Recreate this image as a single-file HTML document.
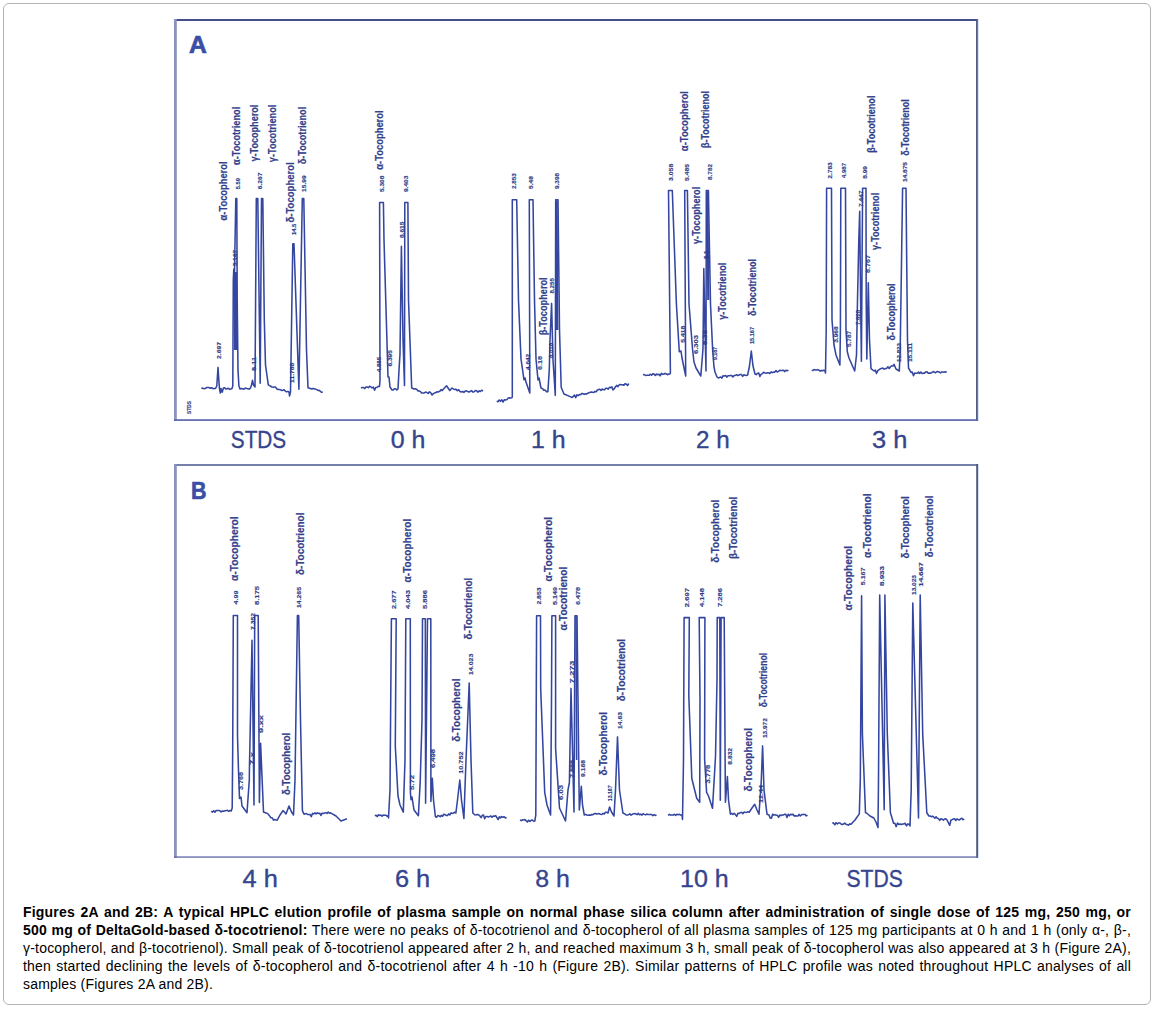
<!DOCTYPE html>
<html><head><meta charset="utf-8">
<style>
html,body{margin:0;padding:0;background:#fff;}
body{width:1155px;height:1011px;position:relative;overflow:hidden;font-family:"Liberation Sans",sans-serif;}
#box{position:absolute;left:3px;top:3px;width:1146px;height:1000px;border:1px solid #b4b4b4;border-radius:6px;box-sizing:content-box;}
#cap{position:absolute;left:23px;top:902.5px;width:1108px;font-size:14px;line-height:18px;color:#000;}
#cap div{height:18px;white-space:nowrap;}
#cap .j{text-align:justify;text-align-last:justify;white-space:normal;}
#cap div{letter-spacing:0.2px;}
#fig{position:absolute;left:0;top:0;}
</style></head><body>
<div id="box"></div>
<svg id="fig" width="1155" height="900" viewBox="0 0 1155 900">
<rect x="174" y="19" width="804" height="2" fill="#434f88"/>
<rect x="174" y="19" width="2.8" height="402" fill="#8b93c2"/>
<rect x="976" y="19" width="1.9" height="402" fill="#525f7e"/>
<rect x="977.9" y="19" width="1" height="402" fill="#d6ddf8"/>
<rect x="174" y="419.2" width="804" height="1.7" fill="#5c67ae"/>
<rect x="174" y="464" width="804" height="2" fill="#7681ab"/>
<rect x="174" y="464" width="2.8" height="394" fill="#8b93c2"/>
<rect x="976.2" y="464" width="1.8" height="394" fill="#4e5b76"/>
<rect x="978" y="464" width="1" height="394" fill="#d6ddf8"/>
<rect x="174" y="856.4" width="804" height="1.3" fill="#5c67a8"/>
<text x="189" y="52.6" font-size="24.5" font-weight="bold" fill="#3a4ea6" stroke="#3a4ea6" stroke-width="0.7" textLength="17.8" lengthAdjust="spacingAndGlyphs">A</text>
<text x="191" y="498.6" font-size="23" font-weight="bold" fill="#3a4ea6" stroke="#3a4ea6" stroke-width="0.6" textLength="15.5" lengthAdjust="spacingAndGlyphs">B</text>
<g fill="none" stroke="#3446a0" stroke-width="1.55" stroke-linejoin="round">
<path d="M201.3,388.4 202.6,388.1 203.9,388.7 205.2,388.5 206.5,387.6 207.8,387.5 209.0,387.6 210.3,388.3 211.6,387.7 212.9,388.7 214.2,388.6 215.5,388.5 216.8,386.0 218.0,367.4 219.4,388.0 220.3,393.0 221.0,388.5 222.2,392.2 223.4,388.1 224.7,387.7 225.9,389.1 227.1,388.7 228.3,388.2 229.6,389.4 230.8,388.9 232.0,388.5 232.8,386.0 233.3,280.0 233.8,269.0 234.5,272.0 235.8,198.5 236.8,198.5 237.2,300.0 238.0,370.0 238.9,386.0 240.0,389.0 241.3,388.5 242.6,388.7 243.9,389.2 245.2,388.0 246.6,388.4 247.9,388.7 249.2,389.1 250.5,388.0 251.5,385.0 252.5,380.3 253.5,385.0 255.0,387.0 256.3,198.5 257.8,198.5 260.2,383.3 261.5,198.5 262.8,198.5 264.3,320.0 265.5,365.0 268.3,384.8 272.0,387.0 273.2,387.2 274.4,387.0 275.6,387.1 276.9,389.0 278.1,389.5 279.3,389.5 280.5,389.7 281.7,390.5 282.9,390.2 284.1,389.7 285.4,391.2 286.6,391.9 287.8,391.4 289.0,392.0 289.5,396.0 290.5,392.0 292.8,243.8 294.0,243.8 298.9,389.2 302.3,198.5 303.8,198.5 306.5,350.0 308.0,387.7 312.0,389.0 313.2,388.4 314.4,389.0 315.6,389.1 316.8,389.6 318.0,390.4 319.2,390.2 320.4,391.4 321.6,392.3 322.8,392.0"/>
<path d="M361.0,388.0 362.2,387.5 363.5,387.5 364.7,388.6 365.9,387.0 367.2,387.0 368.4,387.6 369.6,386.3 370.9,386.9 372.1,388.0 373.3,387.0 374.6,390.1 375.8,387.4 377.0,387.3 378.3,386.4 379.5,386.5 380.0,380.0 379.6,202.4 383.4,202.4 384.0,240.0 388.0,377.0 389.0,377.0 390.0,387.0 392.0,390.0 393.2,390.1 394.4,388.7 395.6,388.7 396.8,390.0 398.0,389.0 399.0,370.0 400.0,354.0 401.4,246.3 403.0,340.0 404.5,385.6 404.8,202.4 407.9,202.4 408.5,300.0 411.7,388.0 414.0,389.0 415.3,388.8 416.6,389.2 417.9,390.9 419.1,390.8 420.4,391.6 421.7,393.1 423.0,393.0 424.3,392.9 425.6,392.1 426.9,392.5 428.2,393.5 429.5,391.8 430.8,392.8 432.1,395.0 433.4,393.6 434.7,392.9 436.0,392.5 437.2,391.7 438.5,391.9 439.8,391.3 441.0,389.6 442.2,390.6 443.5,389.0 446.5,385.8 449.8,390.5 452.0,388.0 453.3,389.0 454.6,389.4 456.0,389.3 457.3,390.7 458.6,389.7 460.0,391.5 461.3,391.9 462.6,391.5 463.9,392.4 465.2,390.9 466.4,390.8 467.7,391.6 469.0,392.0 470.2,391.6 471.5,390.5 472.8,392.1 474.1,391.7 475.4,390.5 476.6,390.8 477.9,392.1 479.2,390.9 480.4,391.5 481.7,390.3 483.0,391.0"/>
<path d="M496.7,401.3 498.0,401.8 499.2,400.0 500.5,401.3 501.8,399.8 503.1,402.0 504.4,399.7 505.6,400.0 506.9,399.6 508.2,397.9 509.4,397.8 510.7,398.1 512.0,397.6 512.3,397.0 512.3,199.8 516.7,199.8 518.5,300.0 521.0,359.0 524.0,379.8 525.0,378.0 526.0,382.0 529.8,393.0 529.3,199.8 533.0,199.8 534.5,300.0 536.0,359.0 538.0,380.0 539.0,378.0 541.0,388.0 542.4,388.6 543.8,390.3 545.1,390.1 546.5,391.8 547.9,391.7 549.3,369.4 550.0,340.0 551.6,303.4 553.0,360.0 555.3,395.4 555.7,199.8 558.0,199.8 559.5,330.0 561.2,387.2 564.0,394.0 570.9,396.9 572.1,397.5 573.3,396.4 574.5,395.1 575.7,397.8 576.9,394.8 578.1,395.7 579.3,394.6 580.5,394.8 581.7,393.6 582.9,393.6 584.1,394.4 585.4,393.7 586.6,394.1 587.8,393.2 589.0,392.7 590.2,392.3 591.4,392.1 592.6,392.3 593.8,392.5 595.0,391.4 596.2,391.7 597.4,390.0 598.6,389.6 599.8,389.3 601.0,390.5 602.2,389.0 603.4,389.7 604.6,389.8 605.8,388.2 607.0,388.3 608.2,389.2 609.4,387.3 610.6,387.7 611.8,386.8 613.0,389.9 614.2,388.7 615.5,386.8 616.7,385.4 617.9,386.6 619.1,384.9 620.3,384.5 621.5,384.7 622.7,384.7 623.9,385.3 625.1,383.6 626.3,384.2 627.5,385.5 628.7,383.5"/>
<path d="M643.0,374.7 644.2,374.5 645.5,375.5 646.7,375.2 647.9,375.3 649.1,375.3 650.4,374.2 651.6,375.3 652.8,373.7 654.0,373.9 655.3,375.5 656.5,374.0 657.7,374.8 659.0,374.3 660.2,375.8 661.4,373.3 662.6,374.3 663.9,374.1 665.1,373.3 666.3,374.0 667.5,374.7 668.8,374.0 670.0,374.0 670.4,373.0 668.5,190.5 672.3,190.5 676.4,304.0 679.3,351.7 681.0,351.0 682.0,358.0 685.7,376.0 684.7,190.5 687.4,190.5 689.0,304.0 692.7,351.0 694.0,362.0 696.0,368.0 700.8,376.0 702.5,355.0 703.0,348.7 703.8,268.6 705.0,330.0 706.0,371.0 706.3,190.5 708.4,190.5 710.5,304.0 712.7,351.0 714.0,367.0 715.0,372.0 717.0,377.0 718.2,377.9 719.4,377.5 720.7,377.0 721.9,378.1 723.1,375.7 724.3,376.0 725.6,375.6 726.8,377.1 728.0,375.8 729.2,375.8 730.5,375.4 731.7,375.6 732.9,376.9 734.1,375.4 735.4,375.4 736.6,374.7 737.8,375.6 739.0,375.0 740.3,374.5 741.5,374.6 742.7,376.4 743.9,374.7 745.2,375.2 746.4,375.4 747.6,375.0 749.5,366.0 751.3,351.0 753.0,366.0 755.0,374.0 756.2,374.6 757.5,373.4 758.7,372.9 759.9,376.5 761.2,374.1 762.4,373.6 763.7,372.3 764.9,372.9 766.1,373.3 767.4,372.8 768.6,372.8 769.8,373.5 771.1,371.9 772.3,372.7 773.6,372.1 774.8,372.1 776.0,370.6 777.3,372.0 778.5,371.4 779.7,370.3 781.0,370.5 782.2,370.4 783.5,370.2 784.7,371.6 785.9,370.2 787.2,370.7 788.4,370.2"/>
<path d="M811.7,370.2 812.9,370.5 814.1,369.5 815.3,369.9 816.5,370.1 817.7,369.6 819.0,370.2 820.2,371.1 821.4,370.4 822.6,370.8 823.8,370.2 825.0,371.0 825.5,373.0 826.2,330.0 826.6,188.3 831.5,188.3 832.0,320.0 834.0,345.0 836.0,355.0 839.9,365.0 840.4,330.0 840.8,188.3 845.5,188.3 846.0,330.0 847.3,351.7 849.0,358.0 854.7,371.0 856.5,355.0 857.5,300.0 858.8,240.0 859.7,211.3 860.6,300.0 861.4,361.3 862.6,188.3 866.0,188.3 866.2,300.0 866.8,359.0 868.3,282.7 869.5,340.0 871.0,368.7 874.0,371.0 875.3,370.1 876.5,373.4 877.8,370.6 879.1,369.6 880.3,368.8 881.6,368.4 882.9,368.0 884.1,369.2 885.4,368.6 886.7,368.4 887.9,366.8 889.2,368.5 890.5,366.7 891.7,365.9 893.0,366.0 894.0,364.3 896.0,369.0 899.3,371.0 900.2,350.0 902.6,188.3 906.0,188.3 907.5,340.0 908.5,368.0 911.0,372.4 912.2,372.1 913.5,375.7 914.7,373.1 915.9,373.3 917.2,373.2 918.4,372.1 919.6,373.4 920.8,372.1 922.1,373.6 923.3,373.1 924.5,373.3 925.8,371.9 927.0,371.8 928.2,373.3 929.5,373.0 930.7,373.2 931.9,372.5 933.2,371.5 934.4,372.3 935.6,372.7 936.9,371.5 938.1,371.7 939.3,372.1 940.5,372.9 941.8,371.9 943.0,372.0 944.2,372.2 945.5,371.7 946.7,372.4"/>
<path d="M211.1,811.3 212.4,812.1 213.6,810.7 214.9,812.2 216.1,810.5 217.4,810.4 218.6,810.4 219.9,810.7 221.1,811.9 222.4,811.0 223.7,811.2 224.9,810.8 226.2,810.6 227.4,810.3 228.7,811.3 229.9,810.5 231.2,811.0 232.2,808.0 232.7,750.0 233.3,615.4 237.5,615.4 237.5,735.6 238.5,771.0 239.5,798.5 241.0,797.0 242.0,806.0 247.0,812.7 249.3,780.0 249.5,765.0 252.0,640.3 254.0,805.0 254.7,615.4 258.2,615.4 259.4,802.6 260.6,743.3 263.5,812.0 266.0,813.0 267.2,813.3 268.5,814.5 269.7,816.1 271.0,817.8 272.2,817.8 273.5,820.1 274.7,819.5 276.0,820.1 277.2,820.2 280.0,815.0 283.0,810.6 286.0,814.0 289.0,806.0 291.5,812.0 293.5,815.0 295.0,780.0 297.4,615.4 298.7,615.4 300.5,720.0 302.4,810.6 304.0,814.3 305.2,813.7 306.4,813.5 307.6,814.5 308.8,814.5 310.0,814.5 311.3,816.7 312.5,813.3 313.7,814.0 314.9,812.9 316.1,813.9 317.3,812.8 318.5,813.5 319.7,813.2 320.9,815.5 322.1,813.2 323.3,813.5 324.6,813.1 325.8,812.6 327.0,813.4 328.2,812.0 329.4,813.2 330.6,812.8 336.0,816.0 341.0,821.0 347.0,818.7"/>
<path d="M374.8,815.7 376.0,815.2 377.2,816.6 378.5,814.8 379.7,815.5 380.9,815.1 382.1,816.2 383.3,815.1 384.5,815.3 385.8,815.2 387.0,816.2 388.2,815.7 388.5,818.0 390.0,790.0 391.4,618.7 396.2,618.7 395.3,746.0 398.0,796.0 400.0,805.0 403.3,812.1 405.0,760.0 405.8,618.7 410.3,618.7 410.4,792.5 411.0,799.7 412.0,797.0 414.0,810.0 418.4,815.7 420.2,781.8 422.0,720.0 422.5,618.7 425.3,618.7 425.6,803.2 427.5,618.7 430.8,618.7 430.9,801.4 432.3,778.3 433.5,800.0 435.4,816.6 436.6,817.3 437.8,815.6 439.0,815.8 440.2,816.7 441.4,815.3 442.6,816.3 443.8,814.2 445.0,814.7 446.3,815.5 447.5,815.5 448.7,813.9 449.9,814.9 451.1,812.9 452.3,813.4 453.5,813.1 454.7,812.2 455.9,813.0 457.5,800.0 459.8,780.0 461.5,800.0 463.9,818.4 466.0,760.0 469.2,683.0 471.0,760.0 472.8,813.0 475.0,815.0 476.2,814.8 477.4,814.4 478.6,814.7 479.9,816.0 481.1,817.6 482.3,815.3 483.5,815.1 484.7,818.7 485.9,816.5 487.2,816.6 488.4,816.9 489.6,816.6 490.8,815.9 492.0,817.3 493.2,816.0 494.4,816.2 495.7,815.6 496.9,817.6 498.1,819.6 499.3,816.9 500.5,817.9 501.7,816.6 503.0,817.2 504.2,816.7 505.4,817.9 506.6,817.5"/>
<path d="M520.0,820.0 521.2,820.6 522.5,819.8 523.7,820.0 524.9,819.5 526.2,820.9 527.4,822.0 528.6,820.2 529.9,821.4 531.1,820.3 532.3,820.0 533.6,821.3 534.8,821.0 535.8,815.0 536.6,615.7 540.5,615.7 540.7,689.0 544.7,792.3 547.0,805.0 550.6,815.0 551.5,700.0 551.9,615.7 555.6,615.7 555.6,748.7 559.5,808.0 565.5,821.0 568.0,790.0 569.4,782.4 571.0,688.4 574.0,812.0 575.0,615.7 577.0,615.7 579.3,810.0 581.3,786.3 582.5,805.0 584.3,815.0 585.5,814.4 586.8,815.0 588.0,815.2 589.3,814.9 590.5,815.2 591.8,814.5 593.0,814.7 594.3,813.7 595.5,813.4 596.8,814.1 598.0,813.6 599.3,813.8 600.5,814.2 601.8,814.5 603.0,813.4 604.3,814.0 605.5,812.3 606.8,812.3 608.0,813.0 609.6,807.0 611.5,812.0 614.0,816.0 615.5,790.0 617.5,736.9 619.5,790.0 622.9,813.0 625.0,814.0 626.2,815.0 627.4,814.9 628.6,814.8 629.8,813.7 631.1,815.1 632.3,814.4 633.5,813.7 634.7,813.6 635.9,813.9 637.1,814.7 638.3,813.4 639.5,814.8 640.8,814.1 642.0,815.1 643.2,813.7 644.4,814.4 645.6,814.9 646.8,814.0 648.0,814.6 649.2,814.4 650.4,814.4 651.7,814.6 652.9,815.6 654.1,814.7 655.3,815.4 656.5,815.0"/>
<path d="M668.1,815.3 669.4,814.3 670.6,815.1 671.9,815.0 673.2,815.1 674.4,814.2 675.7,815.4 676.9,814.3 678.2,814.8 679.5,814.3 680.7,815.1 682.0,815.0 682.5,819.5 683.5,760.0 684.1,617.6 689.3,617.6 688.8,695.4 691.8,778.5 696.7,798.3 699.7,802.3 700.0,700.0 699.2,617.6 704.9,617.6 704.6,758.7 706.6,792.4 708.5,796.0 712.5,808.2 715.5,756.8 717.0,680.0 717.2,617.6 719.8,617.6 720.3,800.3 721.1,617.6 724.2,617.6 725.4,802.3 727.4,776.6 728.5,800.0 730.4,814.2 731.7,813.3 732.9,814.5 734.2,813.2 735.4,814.6 736.7,816.4 737.9,813.2 739.2,813.5 740.4,812.5 741.7,812.4 742.9,813.6 744.2,812.1 745.4,812.4 746.7,812.2 747.9,811.8 749.2,812.2 752.0,808.0 754.7,804.3 757.0,810.0 759.0,814.2 761.3,780.0 762.6,745.9 764.0,790.0 767.0,814.2 769.0,815.0 770.2,818.1 771.4,818.3 772.6,814.2 773.8,815.1 775.0,814.6 776.2,815.2 777.4,815.3 778.6,817.3 779.8,815.0 781.0,815.6 782.2,815.0 783.4,815.0 784.6,814.3 785.8,814.2 787.0,817.5 788.2,814.2 789.5,815.6 790.7,814.2 791.9,814.8 793.1,814.3 794.3,816.1 795.5,815.7 796.7,816.0 797.9,816.0 799.1,814.4 800.3,815.9 801.5,814.8 802.7,814.4 803.9,814.6 805.1,814.4 806.3,815.9 807.5,815.1"/>
<path d="M832.3,823.2 833.5,822.8 834.8,824.8 836.0,822.7 837.3,823.9 838.5,822.9 839.8,822.9 841.0,824.0 842.3,824.5 843.5,824.0 844.8,823.1 846.0,824.3 847.3,824.7 848.5,825.1 849.8,823.9 851.0,824.3 855.0,820.0 859.3,813.9 860.3,780.0 861.6,595.7 862.4,733.9 865.5,812.8 866.5,813.0 870.0,816.0 873.8,818.0 876.0,822.0 878.0,827.4 878.5,780.0 879.7,595.0 884.2,809.7 884.9,595.0 887.3,733.9 890.4,812.8 893.6,823.2 894.9,823.2 896.2,826.6 897.5,823.0 898.8,824.5 900.1,824.0 901.4,824.5 902.6,824.1 903.9,824.0 905.2,823.3 906.5,825.9 907.8,823.9 909.1,824.3 910.0,826.0 911.2,790.0 912.8,603.1 918.5,818.0 920.2,595.0 922.7,733.9 926.8,812.8 928.9,816.0 930.1,816.0 931.3,816.7 932.5,816.2 933.7,817.0 934.9,818.2 936.1,816.9 937.3,818.1 938.6,818.7 939.8,820.4 941.0,818.8 942.2,819.2 943.4,820.1 944.6,819.0 945.8,818.8 947.0,820.0 949.7,825.3 951.0,820.0 952.2,819.7 953.4,818.9 954.6,818.8 955.8,820.5 957.0,818.9 958.2,819.5 959.4,820.0 960.6,818.9 961.8,818.3 963.0,819.7 964.2,819.0"/>
</g>
<path d="M235.4,272 L235.6,350" stroke="#3446a0" stroke-width="3.2" fill="none"/>
<path d="M556.5,200.5 L557.2,330" stroke="#3446a0" stroke-width="2.4" fill="none"/>
<path d="M707.4,191.2 L708.3,300" stroke="#3446a0" stroke-width="2.2" fill="none"/>
<path d="M576,616.5 L576.6,760" stroke="#3446a0" stroke-width="1.6" fill="none"/>
<g font-family="Liberation Sans, sans-serif">
<text transform="translate(227.0,220.4) rotate(-90)" font-size="11.8" font-weight="bold" textLength="58.9" lengthAdjust="spacingAndGlyphs" fill="#33418c" stroke="#33418c" stroke-width="0.22">α-Tocopherol</text>
<text transform="translate(240.2,165.0) rotate(-90)" font-size="11.8" font-weight="bold" textLength="58.2" lengthAdjust="spacingAndGlyphs" fill="#33418c" stroke="#33418c" stroke-width="0.22">α-Tocotrienol</text>
<text transform="translate(257.5,161.5) rotate(-90)" font-size="11.8" font-weight="bold" textLength="56.8" lengthAdjust="spacingAndGlyphs" fill="#33418c" stroke="#33418c" stroke-width="0.22">γ-Tocopherol</text>
<text transform="translate(276.2,162.2) rotate(-90)" font-size="11.8" font-weight="bold" textLength="57.5" lengthAdjust="spacingAndGlyphs" fill="#33418c" stroke="#33418c" stroke-width="0.22">γ-Tocotrienol</text>
<text transform="translate(294.2,222.5) rotate(-90)" font-size="11.8" font-weight="bold" textLength="60.3" lengthAdjust="spacingAndGlyphs" fill="#33418c" stroke="#33418c" stroke-width="0.22">δ-Tocopherol</text>
<text transform="translate(306.0,164.3) rotate(-90)" font-size="11.8" font-weight="bold" textLength="57.5" lengthAdjust="spacingAndGlyphs" fill="#33418c" stroke="#33418c" stroke-width="0.22">δ-Tocotrienol</text>
<text transform="translate(383.2,169.7) rotate(-90)" font-size="11.8" font-weight="bold" textLength="59.3" lengthAdjust="spacingAndGlyphs" fill="#33418c" stroke="#33418c" stroke-width="0.22">α-Tocopherol</text>
<text transform="translate(546.9,335.3) rotate(-90)" font-size="11.8" font-weight="bold" textLength="57.9" lengthAdjust="spacingAndGlyphs" fill="#33418c" stroke="#33418c" stroke-width="0.22">β-Tocopherol</text>
<text transform="translate(687.7,151.2) rotate(-90)" font-size="11.8" font-weight="bold" textLength="60.2" lengthAdjust="spacingAndGlyphs" fill="#33418c" stroke="#33418c" stroke-width="0.22">α-Tocopherol</text>
<text transform="translate(709.1,148.0) rotate(-90)" font-size="11.8" font-weight="bold" textLength="57.0" lengthAdjust="spacingAndGlyphs" fill="#33418c" stroke="#33418c" stroke-width="0.22">β-Tocotrienol</text>
<text transform="translate(699.5,244.0) rotate(-90)" font-size="11.8" font-weight="bold" textLength="57.2" lengthAdjust="spacingAndGlyphs" fill="#33418c" stroke="#33418c" stroke-width="0.22">γ-Tocopherol</text>
<text transform="translate(725.7,319.8) rotate(-90)" font-size="11.8" font-weight="bold" textLength="57.2" lengthAdjust="spacingAndGlyphs" fill="#33418c" stroke="#33418c" stroke-width="0.22">γ-Tocotrienol</text>
<text transform="translate(756.3,316.0) rotate(-90)" font-size="11.8" font-weight="bold" textLength="57.0" lengthAdjust="spacingAndGlyphs" fill="#33418c" stroke="#33418c" stroke-width="0.22">δ-Tocotrienol</text>
<text transform="translate(875.3,152.7) rotate(-90)" font-size="11.8" font-weight="bold" textLength="57.1" lengthAdjust="spacingAndGlyphs" fill="#33418c" stroke="#33418c" stroke-width="0.22">β-Tocotrienol</text>
<text transform="translate(908.7,155.7) rotate(-90)" font-size="11.8" font-weight="bold" textLength="56.4" lengthAdjust="spacingAndGlyphs" fill="#33418c" stroke="#33418c" stroke-width="0.22">δ-Tocotrienol</text>
<text transform="translate(879.0,250.0) rotate(-90)" font-size="11.8" font-weight="bold" textLength="57.2" lengthAdjust="spacingAndGlyphs" fill="#33418c" stroke="#33418c" stroke-width="0.22">γ-Tocotrienol</text>
<text transform="translate(894.6,340.5) rotate(-90)" font-size="11.8" font-weight="bold" textLength="57.1" lengthAdjust="spacingAndGlyphs" fill="#33418c" stroke="#33418c" stroke-width="0.22">δ-Tocopherol</text>
<text transform="translate(238.4,580.9) rotate(-90)" font-size="11.8" font-weight="bold" textLength="64.6" lengthAdjust="spacingAndGlyphs" fill="#33418c" stroke="#33418c" stroke-width="0.22">α-Tocopherol</text>
<text transform="translate(303.7,575.0) rotate(-90)" font-size="11.8" font-weight="bold" textLength="62.4" lengthAdjust="spacingAndGlyphs" fill="#33418c" stroke="#33418c" stroke-width="0.22">δ-Tocotrienol</text>
<text transform="translate(289.6,795.0) rotate(-90)" font-size="11.8" font-weight="bold" textLength="62.3" lengthAdjust="spacingAndGlyphs" fill="#33418c" stroke="#33418c" stroke-width="0.22">δ-Tocopherol</text>
<text transform="translate(411.2,582.4) rotate(-90)" font-size="11.8" font-weight="bold" textLength="63.7" lengthAdjust="spacingAndGlyphs" fill="#33418c" stroke="#33418c" stroke-width="0.22">α-Tocopherol</text>
<text transform="translate(472.4,639.5) rotate(-90)" font-size="11.8" font-weight="bold" textLength="61.6" lengthAdjust="spacingAndGlyphs" fill="#33418c" stroke="#33418c" stroke-width="0.22">δ-Tocotrienol</text>
<text transform="translate(460.1,741.7) rotate(-90)" font-size="11.8" font-weight="bold" textLength="63.2" lengthAdjust="spacingAndGlyphs" fill="#33418c" stroke="#33418c" stroke-width="0.22">δ-Tocopherol</text>
<text transform="translate(551.7,581.6) rotate(-90)" font-size="11.8" font-weight="bold" textLength="64.6" lengthAdjust="spacingAndGlyphs" fill="#33418c" stroke="#33418c" stroke-width="0.22">α-Tocopherol</text>
<text transform="translate(566.5,630.6) rotate(-90)" font-size="11.8" font-weight="bold" textLength="63.8" lengthAdjust="spacingAndGlyphs" fill="#33418c" stroke="#33418c" stroke-width="0.22">α-Tocotrienol</text>
<text transform="translate(606.8,775.5) rotate(-90)" font-size="11.8" font-weight="bold" textLength="63.5" lengthAdjust="spacingAndGlyphs" fill="#33418c" stroke="#33418c" stroke-width="0.22">δ-Tocopherol</text>
<text transform="translate(624.7,701.2) rotate(-90)" font-size="11.8" font-weight="bold" textLength="62.2" lengthAdjust="spacingAndGlyphs" fill="#33418c" stroke="#33418c" stroke-width="0.22">δ-Tocotrienol</text>
<text transform="translate(718.7,562.7) rotate(-90)" font-size="11.8" font-weight="bold" textLength="63.1" lengthAdjust="spacingAndGlyphs" fill="#33418c" stroke="#33418c" stroke-width="0.22">δ-Tocopherol</text>
<text transform="translate(737.3,559.0) rotate(-90)" font-size="11.8" font-weight="bold" textLength="62.3" lengthAdjust="spacingAndGlyphs" fill="#33418c" stroke="#33418c" stroke-width="0.22">β-Tocotrienol</text>
<text transform="translate(751.9,791.4) rotate(-90)" font-size="11.8" font-weight="bold" textLength="63.4" lengthAdjust="spacingAndGlyphs" fill="#33418c" stroke="#33418c" stroke-width="0.22">δ-Tocopherol</text>
<text transform="translate(766.7,707.3) rotate(-90)" font-size="11.8" font-weight="bold" textLength="54.4" lengthAdjust="spacingAndGlyphs" fill="#33418c" stroke="#33418c" stroke-width="0.22">δ-Tocotrienol</text>
<text transform="translate(852.1,610.6) rotate(-90)" font-size="11.8" font-weight="bold" textLength="64.6" lengthAdjust="spacingAndGlyphs" fill="#33418c" stroke="#33418c" stroke-width="0.22">α-Tocopherol</text>
<text transform="translate(870.6,557.9) rotate(-90)" font-size="11.8" font-weight="bold" textLength="64.5" lengthAdjust="spacingAndGlyphs" fill="#33418c" stroke="#33418c" stroke-width="0.22">α-Tocotrienol</text>
<text transform="translate(909.2,558.6) rotate(-90)" font-size="11.8" font-weight="bold" textLength="62.3" lengthAdjust="spacingAndGlyphs" fill="#33418c" stroke="#33418c" stroke-width="0.22">δ-Tocopherol</text>
<text transform="translate(932.9,557.2) rotate(-90)" font-size="11.8" font-weight="bold" textLength="61.6" lengthAdjust="spacingAndGlyphs" fill="#33418c" stroke="#33418c" stroke-width="0.22">δ-Tocotrienol</text>
<text transform="translate(239.6,189.2) rotate(-90)" font-size="6.2" font-weight="bold" textLength="11.2" lengthAdjust="spacingAndGlyphs" fill="#2e3c88" stroke="#2e3c88" stroke-width="0.15">5.59</text>
<text transform="translate(262.4,189.2) rotate(-90)" font-size="6.2" font-weight="bold" textLength="16.6" lengthAdjust="spacingAndGlyphs" fill="#2e3c88" stroke="#2e3c88" stroke-width="0.15">6.267</text>
<text transform="translate(306.0,192.0) rotate(-90)" font-size="6.2" font-weight="bold" textLength="16.6" lengthAdjust="spacingAndGlyphs" fill="#2e3c88" stroke="#2e3c88" stroke-width="0.15">15.99</text>
<text transform="translate(296.3,235.0) rotate(-90)" font-size="6.2" font-weight="bold" textLength="11.2" lengthAdjust="spacingAndGlyphs" fill="#2e3c88" stroke="#2e3c88" stroke-width="0.15">14.5</text>
<text transform="translate(236.6,266.0) rotate(-90)" font-size="6.2" font-weight="bold" textLength="16.0" lengthAdjust="spacingAndGlyphs" fill="#2e3c88" stroke="#2e3c88" stroke-width="0.15">5.167</text>
<text transform="translate(220.6,359.0) rotate(-90)" font-size="6.2" font-weight="bold" textLength="17.0" lengthAdjust="spacingAndGlyphs" fill="#2e3c88" stroke="#2e3c88" stroke-width="0.15">2.697</text>
<text transform="translate(255.6,371.0) rotate(-90)" font-size="6.2" font-weight="bold" textLength="14.0" lengthAdjust="spacingAndGlyphs" fill="#2e3c88" stroke="#2e3c88" stroke-width="0.15">8.11</text>
<text transform="translate(293.6,383.0) rotate(-90)" font-size="6.2" font-weight="bold" textLength="20.3" lengthAdjust="spacingAndGlyphs" fill="#2e3c88" stroke="#2e3c88" stroke-width="0.15">11.788</text>
<text transform="translate(383.6,192.0) rotate(-90)" font-size="6.2" font-weight="bold" textLength="16.3" lengthAdjust="spacingAndGlyphs" fill="#2e3c88" stroke="#2e3c88" stroke-width="0.15">5.308</text>
<text transform="translate(408.0,192.0) rotate(-90)" font-size="6.2" font-weight="bold" textLength="16.3" lengthAdjust="spacingAndGlyphs" fill="#2e3c88" stroke="#2e3c88" stroke-width="0.15">9.403</text>
<text transform="translate(404.3,238.0) rotate(-90)" font-size="6.2" font-weight="bold" textLength="16.3" lengthAdjust="spacingAndGlyphs" fill="#2e3c88" stroke="#2e3c88" stroke-width="0.15">8.615</text>
<text transform="translate(391.6,366.6) rotate(-90)" font-size="6.2" font-weight="bold" textLength="16.6" lengthAdjust="spacingAndGlyphs" fill="#2e3c88" stroke="#2e3c88" stroke-width="0.15">6.395</text>
<text transform="translate(380.6,372.0) rotate(-90)" font-size="6.2" font-weight="bold" textLength="15.0" lengthAdjust="spacingAndGlyphs" fill="#2e3c88" stroke="#2e3c88" stroke-width="0.15">4.885</text>
<text transform="translate(516.1,189.0) rotate(-90)" font-size="6.2" font-weight="bold" textLength="15.6" lengthAdjust="spacingAndGlyphs" fill="#2e3c88" stroke="#2e3c88" stroke-width="0.15">2.853</text>
<text transform="translate(532.6,189.0) rotate(-90)" font-size="6.2" font-weight="bold" textLength="13.0" lengthAdjust="spacingAndGlyphs" fill="#2e3c88" stroke="#2e3c88" stroke-width="0.15">5.48</text>
<text transform="translate(558.6,189.0) rotate(-90)" font-size="6.2" font-weight="bold" textLength="16.0" lengthAdjust="spacingAndGlyphs" fill="#2e3c88" stroke="#2e3c88" stroke-width="0.15">9.398</text>
<text transform="translate(553.6,293.6) rotate(-90)" font-size="6.2" font-weight="bold" textLength="15.6" lengthAdjust="spacingAndGlyphs" fill="#2e3c88" stroke="#2e3c88" stroke-width="0.15">8.255</text>
<text transform="translate(530.2,370.0) rotate(-90)" font-size="6.2" font-weight="bold" textLength="16.2" lengthAdjust="spacingAndGlyphs" fill="#2e3c88" stroke="#2e3c88" stroke-width="0.15">4.642</text>
<text transform="translate(541.6,370.0) rotate(-90)" font-size="6.2" font-weight="bold" textLength="14.0" lengthAdjust="spacingAndGlyphs" fill="#2e3c88" stroke="#2e3c88" stroke-width="0.15">6.18</text>
<text transform="translate(552.6,358.0) rotate(-90)" font-size="6.2" font-weight="bold" textLength="15.0" lengthAdjust="spacingAndGlyphs" fill="#2e3c88" stroke="#2e3c88" stroke-width="0.15">8.018</text>
<text transform="translate(673.1,180.9) rotate(-90)" font-size="6.2" font-weight="bold" textLength="17.1" lengthAdjust="spacingAndGlyphs" fill="#2e3c88" stroke="#2e3c88" stroke-width="0.15">3.058</text>
<text transform="translate(688.6,181.0) rotate(-90)" font-size="6.2" font-weight="bold" textLength="17.0" lengthAdjust="spacingAndGlyphs" fill="#2e3c88" stroke="#2e3c88" stroke-width="0.15">5.485</text>
<text transform="translate(711.6,180.0) rotate(-90)" font-size="6.2" font-weight="bold" textLength="16.0" lengthAdjust="spacingAndGlyphs" fill="#2e3c88" stroke="#2e3c88" stroke-width="0.15">8.782</text>
<text transform="translate(753.6,344.0) rotate(-90)" font-size="6.2" font-weight="bold" textLength="17.0" lengthAdjust="spacingAndGlyphs" fill="#2e3c88" stroke="#2e3c88" stroke-width="0.15">15.167</text>
<text transform="translate(684.6,342.8) rotate(-90)" font-size="6.2" font-weight="bold" textLength="17.1" lengthAdjust="spacingAndGlyphs" fill="#2e3c88" stroke="#2e3c88" stroke-width="0.15">5.418</text>
<text transform="translate(697.6,354.0) rotate(-90)" font-size="6.2" font-weight="bold" textLength="19.0" lengthAdjust="spacingAndGlyphs" fill="#2e3c88" stroke="#2e3c88" stroke-width="0.15">6.303</text>
<text transform="translate(707.6,259.0) rotate(-90)" font-size="6.2" font-weight="bold" textLength="8.2" lengthAdjust="spacingAndGlyphs" fill="#2e3c88" stroke="#2e3c88" stroke-width="0.15">8.1</text>
<text transform="translate(706.6,345.0) rotate(-90)" font-size="6.2" font-weight="bold" textLength="15.0" lengthAdjust="spacingAndGlyphs" fill="#2e3c88" stroke="#2e3c88" stroke-width="0.15">8.38</text>
<text transform="translate(716.6,360.0) rotate(-90)" font-size="6.2" font-weight="bold" textLength="13.0" lengthAdjust="spacingAndGlyphs" fill="#2e3c88" stroke="#2e3c88" stroke-width="0.15">9.187</text>
<text transform="translate(831.9,178.7) rotate(-90)" font-size="6.2" font-weight="bold" textLength="16.4" lengthAdjust="spacingAndGlyphs" fill="#2e3c88" stroke="#2e3c88" stroke-width="0.15">2.783</text>
<text transform="translate(845.6,178.0) rotate(-90)" font-size="6.2" font-weight="bold" textLength="15.0" lengthAdjust="spacingAndGlyphs" fill="#2e3c88" stroke="#2e3c88" stroke-width="0.15">4.987</text>
<text transform="translate(866.6,178.7) rotate(-90)" font-size="6.2" font-weight="bold" textLength="12.7" lengthAdjust="spacingAndGlyphs" fill="#2e3c88" stroke="#2e3c88" stroke-width="0.15">8.99</text>
<text transform="translate(906.6,182.0) rotate(-90)" font-size="6.2" font-weight="bold" textLength="20.0" lengthAdjust="spacingAndGlyphs" fill="#2e3c88" stroke="#2e3c88" stroke-width="0.15">14.875</text>
<text transform="translate(862.6,206.9) rotate(-90)" font-size="6.2" font-weight="bold" textLength="16.4" lengthAdjust="spacingAndGlyphs" fill="#2e3c88" stroke="#2e3c88" stroke-width="0.15">7.447</text>
<text transform="translate(837.6,342.8) rotate(-90)" font-size="6.2" font-weight="bold" textLength="16.4" lengthAdjust="spacingAndGlyphs" fill="#2e3c88" stroke="#2e3c88" stroke-width="0.15">3.968</text>
<text transform="translate(850.6,347.0) rotate(-90)" font-size="6.2" font-weight="bold" textLength="16.0" lengthAdjust="spacingAndGlyphs" fill="#2e3c88" stroke="#2e3c88" stroke-width="0.15">5.787</text>
<text transform="translate(859.6,325.0) rotate(-90)" font-size="6.2" font-weight="bold" textLength="15.0" lengthAdjust="spacingAndGlyphs" fill="#2e3c88" stroke="#2e3c88" stroke-width="0.15">7.828</text>
<text transform="translate(869.6,273.0) rotate(-90)" font-size="6.2" font-weight="bold" textLength="18.0" lengthAdjust="spacingAndGlyphs" fill="#2e3c88" stroke="#2e3c88" stroke-width="0.15">8.767</text>
<text transform="translate(900.6,362.0) rotate(-90)" font-size="6.2" font-weight="bold" textLength="19.0" lengthAdjust="spacingAndGlyphs" fill="#2e3c88" stroke="#2e3c88" stroke-width="0.15">12.823</text>
<text transform="translate(911.6,362.0) rotate(-90)" font-size="6.2" font-weight="bold" textLength="19.0" lengthAdjust="spacingAndGlyphs" fill="#2e3c88" stroke="#2e3c88" stroke-width="0.15">15.111</text>
<text transform="translate(237.6,604.6) rotate(-90)" font-size="6.2" font-weight="bold" textLength="14.1" lengthAdjust="spacingAndGlyphs" fill="#2e3c88" stroke="#2e3c88" stroke-width="0.15">4.99</text>
<text transform="translate(258.6,605.0) rotate(-90)" font-size="6.2" font-weight="bold" textLength="19.0" lengthAdjust="spacingAndGlyphs" fill="#2e3c88" stroke="#2e3c88" stroke-width="0.15">8.175</text>
<text transform="translate(300.6,608.0) rotate(-90)" font-size="6.2" font-weight="bold" textLength="21.0" lengthAdjust="spacingAndGlyphs" fill="#2e3c88" stroke="#2e3c88" stroke-width="0.15">14.265</text>
<text transform="translate(254.6,630.0) rotate(-90)" font-size="6.2" font-weight="bold" textLength="17.0" lengthAdjust="spacingAndGlyphs" fill="#2e3c88" stroke="#2e3c88" stroke-width="0.15">7.352</text>
<text transform="translate(242.6,790.0) rotate(-90)" font-size="6.2" font-weight="bold" textLength="18.0" lengthAdjust="spacingAndGlyphs" fill="#2e3c88" stroke="#2e3c88" stroke-width="0.15">3.768</text>
<text transform="translate(262.6,733.0) rotate(-90)" font-size="6.2" font-weight="bold" textLength="18.0" lengthAdjust="spacingAndGlyphs" fill="#2e3c88" stroke="#2e3c88" stroke-width="0.15">9.xx</text>
<text transform="translate(253.6,765.0) rotate(-90)" font-size="6.2" font-weight="bold" textLength="13.0" lengthAdjust="spacingAndGlyphs" fill="#2e3c88" stroke="#2e3c88" stroke-width="0.15">7.x</text>
<text transform="translate(396.3,609.0) rotate(-90)" font-size="6.2" font-weight="bold" textLength="18.5" lengthAdjust="spacingAndGlyphs" fill="#2e3c88" stroke="#2e3c88" stroke-width="0.15">2.677</text>
<text transform="translate(409.6,609.0) rotate(-90)" font-size="6.2" font-weight="bold" textLength="19.0" lengthAdjust="spacingAndGlyphs" fill="#2e3c88" stroke="#2e3c88" stroke-width="0.15">4.043</text>
<text transform="translate(426.6,609.0) rotate(-90)" font-size="6.2" font-weight="bold" textLength="19.0" lengthAdjust="spacingAndGlyphs" fill="#2e3c88" stroke="#2e3c88" stroke-width="0.15">5.886</text>
<text transform="translate(472.9,675.0) rotate(-90)" font-size="6.2" font-weight="bold" textLength="21.4" lengthAdjust="spacingAndGlyphs" fill="#2e3c88" stroke="#2e3c88" stroke-width="0.15">14.023</text>
<text transform="translate(462.6,773.8) rotate(-90)" font-size="6.2" font-weight="bold" textLength="22.3" lengthAdjust="spacingAndGlyphs" fill="#2e3c88" stroke="#2e3c88" stroke-width="0.15">10.752</text>
<text transform="translate(434.6,768.0) rotate(-90)" font-size="6.2" font-weight="bold" textLength="19.0" lengthAdjust="spacingAndGlyphs" fill="#2e3c88" stroke="#2e3c88" stroke-width="0.15">6.498</text>
<text transform="translate(413.6,790.0) rotate(-90)" font-size="6.2" font-weight="bold" textLength="15.0" lengthAdjust="spacingAndGlyphs" fill="#2e3c88" stroke="#2e3c88" stroke-width="0.15">5.72</text>
<text transform="translate(540.6,604.6) rotate(-90)" font-size="6.2" font-weight="bold" textLength="17.1" lengthAdjust="spacingAndGlyphs" fill="#2e3c88" stroke="#2e3c88" stroke-width="0.15">2.853</text>
<text transform="translate(556.6,605.0) rotate(-90)" font-size="6.2" font-weight="bold" textLength="18.0" lengthAdjust="spacingAndGlyphs" fill="#2e3c88" stroke="#2e3c88" stroke-width="0.15">5.149</text>
<text transform="translate(579.6,605.0) rotate(-90)" font-size="6.2" font-weight="bold" textLength="18.0" lengthAdjust="spacingAndGlyphs" fill="#2e3c88" stroke="#2e3c88" stroke-width="0.15">6.478</text>
<text transform="translate(621.6,729.0) rotate(-90)" font-size="6.2" font-weight="bold" textLength="17.0" lengthAdjust="spacingAndGlyphs" fill="#2e3c88" stroke="#2e3c88" stroke-width="0.15">14.63</text>
<text transform="translate(611.6,801.2) rotate(-90)" font-size="6.2" font-weight="bold" textLength="15.8" lengthAdjust="spacingAndGlyphs" fill="#2e3c88" stroke="#2e3c88" stroke-width="0.15">13.187</text>
<text transform="translate(573.6,683.4) rotate(-90)" font-size="6.2" font-weight="bold" textLength="22.7" lengthAdjust="spacingAndGlyphs" fill="#2e3c88" stroke="#2e3c88" stroke-width="0.15">7.273</text>
<text transform="translate(584.6,777.0) rotate(-90)" font-size="6.2" font-weight="bold" textLength="17.0" lengthAdjust="spacingAndGlyphs" fill="#2e3c88" stroke="#2e3c88" stroke-width="0.15">9.168</text>
<text transform="translate(562.6,800.0) rotate(-90)" font-size="6.2" font-weight="bold" textLength="15.0" lengthAdjust="spacingAndGlyphs" fill="#2e3c88" stroke="#2e3c88" stroke-width="0.15">6.03</text>
<text transform="translate(573.6,778.0) rotate(-90)" font-size="6.2" font-weight="bold" textLength="18.0" lengthAdjust="spacingAndGlyphs" fill="#2e3c88" stroke="#2e3c88" stroke-width="0.15">7.888</text>
<text transform="translate(688.6,607.2) rotate(-90)" font-size="6.2" font-weight="bold" textLength="19.2" lengthAdjust="spacingAndGlyphs" fill="#2e3c88" stroke="#2e3c88" stroke-width="0.15">2.697</text>
<text transform="translate(703.6,607.0) rotate(-90)" font-size="6.2" font-weight="bold" textLength="19.0" lengthAdjust="spacingAndGlyphs" fill="#2e3c88" stroke="#2e3c88" stroke-width="0.15">4.148</text>
<text transform="translate(721.6,607.0) rotate(-90)" font-size="6.2" font-weight="bold" textLength="19.0" lengthAdjust="spacingAndGlyphs" fill="#2e3c88" stroke="#2e3c88" stroke-width="0.15">7.286</text>
<text transform="translate(766.6,738.0) rotate(-90)" font-size="6.2" font-weight="bold" textLength="19.8" lengthAdjust="spacingAndGlyphs" fill="#2e3c88" stroke="#2e3c88" stroke-width="0.15">13.972</text>
<text transform="translate(762.6,803.0) rotate(-90)" font-size="6.2" font-weight="bold" textLength="18.0" lengthAdjust="spacingAndGlyphs" fill="#2e3c88" stroke="#2e3c88" stroke-width="0.15">12.44</text>
<text transform="translate(709.6,783.5) rotate(-90)" font-size="6.2" font-weight="bold" textLength="18.8" lengthAdjust="spacingAndGlyphs" fill="#2e3c88" stroke="#2e3c88" stroke-width="0.15">3.778</text>
<text transform="translate(731.6,764.7) rotate(-90)" font-size="6.2" font-weight="bold" textLength="16.8" lengthAdjust="spacingAndGlyphs" fill="#2e3c88" stroke="#2e3c88" stroke-width="0.15">8.832</text>
<text transform="translate(864.6,585.3) rotate(-90)" font-size="6.2" font-weight="bold" textLength="17.8" lengthAdjust="spacingAndGlyphs" fill="#2e3c88" stroke="#2e3c88" stroke-width="0.15">5.167</text>
<text transform="translate(883.6,586.0) rotate(-90)" font-size="6.2" font-weight="bold" textLength="20.0" lengthAdjust="spacingAndGlyphs" fill="#2e3c88" stroke="#2e3c88" stroke-width="0.15">8.933</text>
<text transform="translate(915.6,595.0) rotate(-90)" font-size="6.2" font-weight="bold" textLength="20.0" lengthAdjust="spacingAndGlyphs" fill="#2e3c88" stroke="#2e3c88" stroke-width="0.15">13.023</text>
<text transform="translate(922.6,586.8) rotate(-90)" font-size="6.2" font-weight="bold" textLength="24.5" lengthAdjust="spacingAndGlyphs" fill="#2e3c88" stroke="#2e3c88" stroke-width="0.15">14.667</text>
<text transform="translate(191.2,414.0) rotate(-90)" font-size="6.2" font-weight="bold" textLength="13.0" lengthAdjust="spacingAndGlyphs" fill="#2e3c88" stroke="#2e3c88" stroke-width="0.15">STDS</text>
<text x="230.8" y="448" font-size="23.3" textLength="55.4" lengthAdjust="spacingAndGlyphs" fill="#36448e" stroke="#36448e" stroke-width="0.35">STDS</text>
<text x="390.8" y="448" font-size="23.3" textLength="34.7" lengthAdjust="spacingAndGlyphs" fill="#36448e" stroke="#36448e" stroke-width="0.35">0 h</text>
<text x="531.1" y="448" font-size="23.3" textLength="34.6" lengthAdjust="spacingAndGlyphs" fill="#36448e" stroke="#36448e" stroke-width="0.35">1 h</text>
<text x="696.0" y="448" font-size="23.3" textLength="33.7" lengthAdjust="spacingAndGlyphs" fill="#36448e" stroke="#36448e" stroke-width="0.35">2 h</text>
<text x="872.1" y="448" font-size="23.3" textLength="35.3" lengthAdjust="spacingAndGlyphs" fill="#36448e" stroke="#36448e" stroke-width="0.35">3 h</text>
<text x="242.6" y="886.5" font-size="23.3" textLength="35.3" lengthAdjust="spacingAndGlyphs" fill="#36448e" stroke="#36448e" stroke-width="0.35">4 h</text>
<text x="394.9" y="886.5" font-size="23.3" textLength="35.3" lengthAdjust="spacingAndGlyphs" fill="#36448e" stroke="#36448e" stroke-width="0.35">6 h</text>
<text x="535.2" y="886.5" font-size="23.3" textLength="34.6" lengthAdjust="spacingAndGlyphs" fill="#36448e" stroke="#36448e" stroke-width="0.35">8 h</text>
<text x="680.0" y="886.5" font-size="23.3" textLength="48.8" lengthAdjust="spacingAndGlyphs" fill="#36448e" stroke="#36448e" stroke-width="0.35">10 h</text>
<text x="846.5" y="886.5" font-size="23.3" textLength="56.3" lengthAdjust="spacingAndGlyphs" fill="#36448e" stroke="#36448e" stroke-width="0.35">STDS</text>
</g>
</svg>
<div id="cap"><div class="j"><b>Figures 2A and 2B: A typical HPLC elution profile of plasma sample on normal phase silica column after administration of single dose of 125 mg, 250 mg, or</b></div><div class="j"><b>500 mg of DeltaGold-based δ-tocotrienol:</b> There were no peaks of δ-tocotrienol and δ-tocopherol of all plasma samples of 125 mg participants at 0 h and 1 h (only α-, β-,</div><div class="j">γ-tocopherol, and β-tocotrienol). Small peak of δ-tocotrienol appeared after 2 h, and reached maximum 3 h, small peak of δ-tocopherol was also appeared at 3 h (Figure 2A),</div><div class="j">then started declining the levels of δ-tocopherol and δ-tocotrienol after 4 h -10 h (Figure 2B). Similar patterns of HPLC profile was noted throughout HPLC analyses of all</div><div class="l">samples (Figures 2A and 2B).</div></div>
</body></html>
